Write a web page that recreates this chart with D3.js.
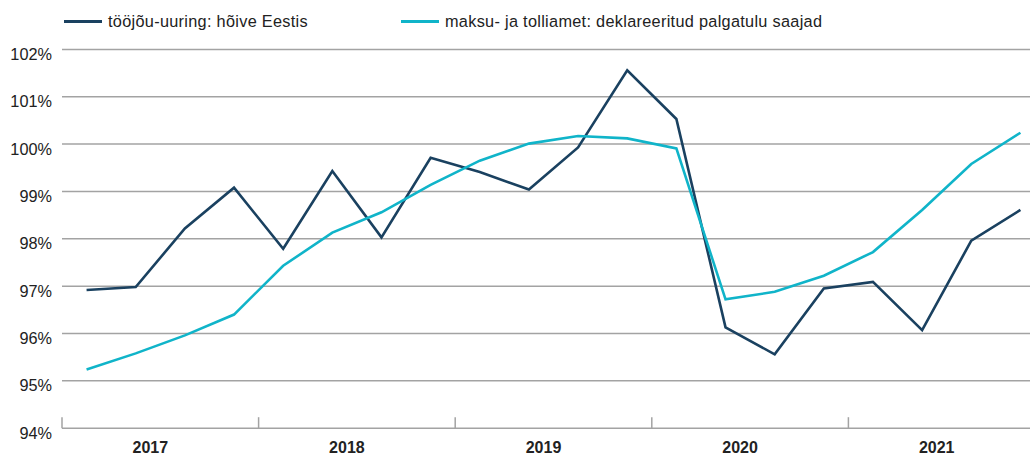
<!DOCTYPE html>
<html>
<head>
<meta charset="utf-8">
<script src="https://cdn.jsdelivr.net/npm/d3@7"></script>
<style>
  body { margin: 0; background: #fff; }
  text { font-family: "Liberation Sans", Arial, sans-serif; fill: #222; }
</style>
</head>
<body>
<div id="chart"></div>
<script>
// quarters 2017Q1 .. 2021Q4
const years = ["2017", "2018", "2019", "2020", "2021"];
const quarters = years.flatMap((y) => ["I", "II", "III", "IV"].map((q) => y + " " + q));

// index, previous year = 100%
const tooturg = [96.92, 96.98, 98.22, 99.08, 97.79, 99.43, 98.03, 99.71,
  99.41, 99.04, 99.93, 101.56, 100.53, 96.13, 95.56, 96.95,
  97.09, 96.07, 97.96, 98.61];
const emta = [95.24, 95.58, 95.96, 96.40, 97.43, 98.13, 98.56, 99.14,
  99.65, 100.01, 100.17, 100.12, 99.91, 96.72, 96.88, 97.22,
  97.72, 98.61, 99.58, 100.24];

const yTicks = [94, 95, 96, 97, 98, 99, 100, 101, 102];

const seriesNames = ["tööjõu-uuring: hõive Eestis", "maksu- ja tolliamet: deklareeritud palgatulu saajad"];
const colors = ["#1a4160", "#10b4c9"];

const w = 1030;
const h = 455;
const left = 62;
const step = 49.15; // one quarter

const x = d3.scaleBand()
  .domain(quarters)
  .range([left, left + step * quarters.length]);

const y = d3.scaleLinear()
  .domain([94, 102])
  .range([428.2, 49.4]);

const svg = d3.select("#chart")
  .append("svg")
  .attr("width", w)
  .attr("height", h);

// horizontal grid
svg.append("g")
  .selectAll("line")
  .data(yTicks)
  .enter()
  .append("line")
  .attr("x1", left)
  .attr("x2", w)
  .attr("y1", (d) => y(d))
  .attr("y2", (d) => y(d))
  .attr("stroke", "#a3a3a3")
  .attr("stroke-width", 1.5);

// y labels
svg.append("g")
  .selectAll("text")
  .data(yTicks)
  .enter()
  .append("text")
  .attr("x", 52)
  .attr("y", (d) => y(d) + 10.5)
  .attr("text-anchor", "end")
  .style("font-size", "16.3px")
  .text((d) => d + "%");

// year ticks on the x axis
const yearStart = (yr) => x(yr + " I");
svg.append("g")
  .selectAll("line")
  .data(years)
  .enter()
  .append("line")
  .attr("x1", (d) => yearStart(d))
  .attr("x2", (d) => yearStart(d))
  .attr("y1", y(94) - 11)
  .attr("y2", y(94))
  .attr("stroke", "#a3a3a3")
  .attr("stroke-width", 1.5);

svg.append("g")
  .selectAll("text")
  .data(years)
  .enter()
  .append("text")
  .attr("x", (d) => yearStart(d) + step * 2 - 10)
  .attr("y", 453)
  .attr("text-anchor", "middle")
  .style("font-size", "16px")
  .style("font-weight", "bold")
  .text((d) => d);

// lines
const line = d3.line()
  .x((d, i) => x(quarters[i]) + x.bandwidth() / 2)
  .y((d) => y(d));

[tooturg, emta].forEach((data, k) => {
  svg.append("path")
    .datum(data)
    .attr("fill", "none")
    .attr("stroke", colors[k])
    .attr("stroke-width", 2.6)
    .attr("stroke-linejoin", "miter")
    .attr("d", line);
});

// legend
const legendX = [64, 401];
const legend = svg.append("g");
seriesNames.forEach((name, k) => {
  legend.append("line")
    .attr("x1", legendX[k])
    .attr("x2", legendX[k] + 38)
    .attr("y1", 21.5)
    .attr("y2", 21.5)
    .attr("stroke", colors[k])
    .attr("stroke-width", 3);
  legend.append("text")
    .attr("x", legendX[k] + 44)
    .attr("y", 27)
    .style("font-size", "16.3px")
    .style("letter-spacing", "0.3px")
    .text(name);
});
</script>
</body>
</html>
